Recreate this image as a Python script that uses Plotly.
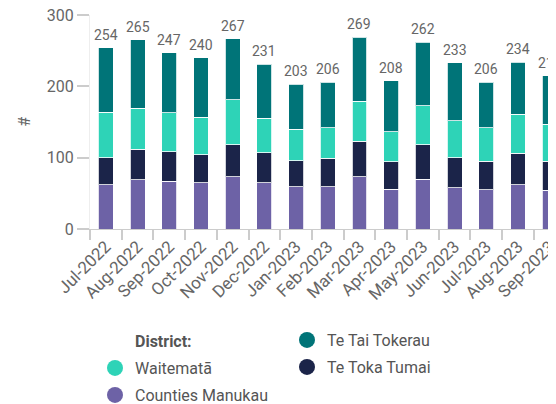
import plotly.graph_objects as go

months = ["Jul-2022", "Aug-2022", "Sep-2022", "Oct-2022", "Nov-2022", "Dec-2022",
          "Jan-2023", "Feb-2023", "Mar-2023", "Apr-2023", "May-2023", "Jun-2023",
          "Jul-2023", "Aug-2023", "Sep-2023"]
counties_manukau = [62, 69, 67, 65, 73, 65, 59, 59, 73, 56, 70, 58, 55, 62, 54]
te_toka_tumai = [38, 43, 41, 39, 45, 42, 37, 40, 50, 38, 48, 42, 40, 44, 41]
waitemata = [64, 57, 55, 53, 63, 48, 44, 43, 56, 42, 55, 52, 47, 55, 52]
te_tai_tokerau = [90, 96, 84, 83, 86, 76, 63, 64, 90, 72, 89, 81, 64, 73, 68]
totals = [254, 265, 247, 240, 267, 231, 203, 206, 269, 208, 262, 233, 206, 234, 215]

series = [
    ("Counties Manukau", counties_manukau, "#6d62a6", "legend2"),
    ("Te Toka Tumai", te_toka_tumai, "#1b2449", "legend4"),
    ("Waitematā", waitemata, "#2ed3b7", "legend"),
    ("Te Tai Tokerau", te_tai_tokerau, "#007478", "legend3"),
]

FONT = "Roboto"
GREY = "#666666"
LEGTXT = "#555555"

# figure is drawn 8px inside the page (default body margin)
W, H = 548, 396

fig = go.Figure()
for name, vals, color, lg in series:
    fig.add_trace(go.Bar(
        x=months, y=vals, name=name, showlegend=False,
        marker=dict(color=color, line=dict(color="rgba(255,255,255,0.8)", width=1)),
        hovertemplate="%{x}<br>" + name + ": %{y}<extra></extra>",
    ))
    # legend proxy with a circular symbol
    fig.add_trace(go.Scatter(
        x=[months[0]], y=[None], mode="markers", name=name, legend=lg,
        marker=dict(color=color, size=17, symbol="circle"), hoverinfo="skip",
    ))

annotations = [
    dict(x=m, y=t, text=str(t), xref="x", yref="y", showarrow=False,
         yanchor="middle", yshift=13,
         font=dict(family=FONT, size=14, color=GREY))
    for m, t in zip(months, totals)
]
annotations.append(dict(
    text="<b>District:</b>", xref="paper", yref="paper",
    x=(125 - 82) / 466, y=(221 - 333.7) / 214, xanchor="left", yanchor="middle",
    showarrow=False, font=dict(family=FONT, size=16, color=LEGTXT),
))
annotations.append(dict(
    text="#", xref="paper", yref="paper", textangle=-90,
    x=(17 - 82) / 466, y=(221 - 113.7) / 214, xanchor="center", yanchor="middle",
    showarrow=False, font=dict(family=FONT, size=16, color=GREY),
))


def leg(xw, yw):
    return dict(xref="container", yref="container", xanchor="left", yanchor="middle",
                x=(xw - 8) / W, y=1 - (yw - 8) / H,
                font=dict(family=FONT, size=16, color=LEGTXT),
                bgcolor="rgba(0,0,0,0)", borderwidth=0, itemclick=False)


fig.update_layout(
    width=W, height=H,
    margin=dict(l=82, r=0, t=7, b=175, autoexpand=False),
    barmode="stack", bargap=0.53,
    plot_bgcolor="white", paper_bgcolor="white",
    font=dict(family=FONT, color=GREY),
    xaxis=dict(
        range=[-0.5, 14.2], tickangle=-45, tickson="boundaries",
        ticks="outside", ticklen=10, tickcolor="#cccccc", tickwidth=2,
        showline=True, linecolor="#cccccc", linewidth=1,
        tickfont=dict(family=FONT, size=17, color=GREY), showgrid=False,
        automargin=False, ticklabeloverflow="allow",
    ),
    yaxis=dict(
        range=[0, 300], tickvals=[0, 100, 200, 300],
        ticks="outside", ticklen=12, tickcolor="#cccccc", tickwidth=2,
        showline=True, linecolor="#eeeeee", linewidth=1,
        tickfont=dict(family=FONT, size=16, color=GREY), showgrid=False,
        zeroline=False, automargin=False, ticklabeloverflow="allow",
    ),
    legend=leg(95, 368),
    legend2=leg(95, 395),
    legend3=leg(287, 340),
    legend4=leg(287, 367),
    annotations=annotations,
)

fig.write_html("out.html")
